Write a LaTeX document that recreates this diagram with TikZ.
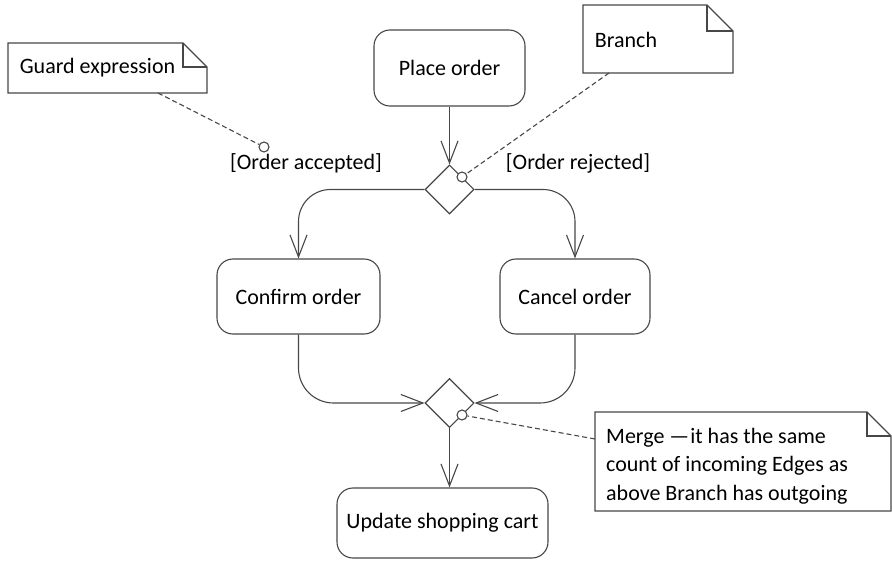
\documentclass[tikz,border=0pt]{standalone}
\usepackage{fontspec}
\setmainfont{Carlito}
\usetikzlibrary{arrows.meta,shapes.geometric,calc}
\tikzset{
  ln/.style={draw=black!72, line width=1.1pt},
  action/.style={ln, rectangle, rounded corners=16pt, inner sep=0pt, align=center},
  choice/.style={ln, diamond, minimum width=49pt, minimum height=49pt, inner sep=0pt},
  pin/.style={ln, circle, minimum size=10pt, inner sep=0pt, fill=white},
  flow/.style={ln, -{Straight Barb[length=22pt,width=17pt,line width=1.1pt]}},
  anno/.style={ln, dashed, dash pattern=on 5pt off 3pt},
  lbl/.style={inner sep=0pt, text=black},
}
\newcommand{\notebox}[5]{% x1,y1,x2,y2,fold
  \draw[ln, fill=white] (#1,#2) -- (#3-#5,#2) -- (#3,#2+#5) -- (#3,#4) -- (#1,#4) -- cycle;
  \draw[ln] (#3-#5,#2) -- (#3-#5,#2+#5) -- (#3,#2+#5);
}
\begin{document}
\begin{tikzpicture}[x=1pt,y=-1pt,font=\fontsize{22}{28}\selectfont]
\useasboundingbox (0,0) rectangle (892,564);

% activities
\node[action, minimum width=151pt, minimum height=76pt] (place) at (449.5,68) {Place order};
\node[action, minimum width=163pt, minimum height=75pt] (confirm) at (298.5,296.5) {Confirm order};
\node[action, minimum width=150pt, minimum height=75pt] (cancel) at (575,296.5) {Cancel order};
\node[action, minimum width=211pt, minimum height=70pt] (update) at (442.5,523) {Update shopping cart};

% decision and merge
\node[choice] (branch) at (449.5,189.5) {};
\node[choice] (merge) at (449.5,403) {};

% control flows
\draw[flow] (place.south) -- (branch.north);
\draw[flow, rounded corners=32pt] (branch.west) -| (confirm.north);
\draw[flow, rounded corners=32pt] (branch.east) -| (cancel.north);
\draw[flow, rounded corners=35pt] (confirm.south) |- (merge.west);
\draw[flow, rounded corners=35pt] (cancel.south) |- (merge.east);
\draw[flow] (merge.south) -- (merge.south |- update.north);

% guards
\node[lbl] (acc) at (306,163) {[Order accepted]};
\node[lbl] (rej) at (578,163) {[Order rejected]};

% notes
\notebox{8}{43}{207}{93}{24}
\node[lbl] (gtext) at (97.5,68) {Guard expression};
\coordinate (gfoot) at (158,93);

\notebox{583}{5}{733}{73}{26}
\node[lbl] (btext) at (626,40) {Branch};
\coordinate (bfoot) at (609,73);

\notebox{595}{412}{891}{511}{24}
\node[lbl, anchor=west, align=left, font=\fontsize{22}{28.5}\selectfont] (mtext) at (606,466)
  {Merge —\kern1pt it has the same\\count of incoming Edges as\\above Branch has outgoing};
\coordinate (mfoot) at (595,439);

% anchors of the notes
\node[pin] (gpin) at (264,147) {};
\node[pin] (bpin) at (462,177) {};
\node[pin] (mpin) at (462,415) {};
\draw[anno] (gfoot) -- (gpin);
\draw[anno] (bfoot) -- (bpin);
\draw[anno] (mfoot) -- (mpin);
\end{tikzpicture}
\end{document}
